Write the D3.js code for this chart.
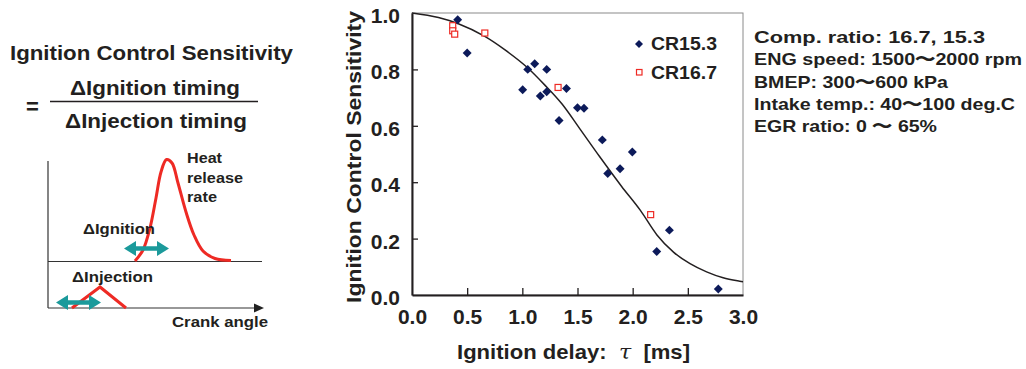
<!DOCTYPE html>
<html>
<head>
<meta charset="utf-8">
<script src="https://cdn.jsdelivr.net/npm/d3@7"></script>
<style>
  body { margin: 0; background: #fff; }
  svg { display: block; font-family: "Liberation Sans", Arial, sans-serif; font-weight: bold; }
  .tickLab { font-size: 21px; fill: #231f20; }
</style>
</head>
<body>
<div id="graphicContainer"></div>
<script>
// scatter data
const cr153X = [0.414, 0.50, 1.049, 1.112, 1.221, 1.003, 1.163, 1.221, 1.40, 1.333, 1.50, 1.559, 1.725, 1.774, 1.886, 1.997, 2.218, 2.333, 2.776];
const cr153Y = [0.976, 0.858, 0.800, 0.820, 0.800, 0.728, 0.706, 0.721, 0.732, 0.619, 0.664, 0.662, 0.550, 0.431, 0.448, 0.507, 0.154, 0.230, 0.021];
const cr167X = [0.369, 0.369, 0.387, 0.66, 1.324, 2.163];
const cr167Y = [0.955, 0.937, 0.925, 0.929, 0.736, 0.285];
// fitted curve
const fitX = [0, 0.24, 0.42, 0.66, 0.84, 1.05, 1.2, 1.36, 1.52, 1.7, 1.9, 2.07, 2.22, 2.37, 2.52, 2.67, 2.82, 2.97, 3.0];
const fitY = [1.0, 0.984, 0.962, 0.917, 0.87, 0.805, 0.746, 0.677, 0.59, 0.491, 0.385, 0.30, 0.213, 0.152, 0.111, 0.082, 0.061, 0.049, 0.047];
const xTicks = [0, 0.5, 1, 1.5, 2, 2.5, 3];
const yTicks = [0, 0.2, 0.4, 0.6, 0.8, 1.0];
const seriesNames = ['CR15.3', 'CR16.7'];
const conditions = [
  ['Comp. ratio: 16.7, 15.3', 231],
  ['ENG speed: 1500\u301c2000 rpm', 268],
  ['BMEP: 300\u301c600 kPa', 194],
  ['Intake temp.: 40\u301c100 deg.C', 261],
  ['EGR ratio: 0 \u301c 65%', 183],
];

const Width = 1026, Height = 369;
const navy = '#0c1a5a', red = '#ee2a24', teal = '#1b9a9b', ink = '#231f20';
const P = { l: 412, r: 743, t: 13, b: 295 };

const svg = d3.select('#graphicContainer').append('svg')
  .attr('width', Width).attr('height', Height);

const x = d3.scaleLinear().domain([0, 3]).range([P.l, P.r]);
const y = d3.scaleLinear().domain([0, 1]).range([P.b, P.t]);

// frame
svg.append('rect')
  .attr('x', P.l).attr('y', P.t)
  .attr('width', P.r - P.l).attr('height', P.b - P.t)
  .attr('fill', 'none').attr('stroke', '#8a8a8a').attr('stroke-width', 1);

const xAxis = svg.append('g').attr('transform', `translate(0,${P.b})`)
  .call(d3.axisBottom(x).tickValues(xTicks).tickSize(-7).tickSizeOuter(0).tickFormat(d3.format('.1f')));
const yAxis = svg.append('g').attr('transform', `translate(${P.l},0)`)
  .call(d3.axisLeft(y).tickValues(yTicks).tickSize(-6).tickSizeOuter(0).tickFormat(d3.format('.1f')));

[xAxis, yAxis].forEach(g => {
  g.select('.domain').attr('stroke', ink).attr('stroke-width', 2);
  g.selectAll('.tick line').attr('stroke', ink).attr('stroke-width', 1.3);
  g.selectAll('.tick text').attr('class', 'tickLab').attr('font-family', null).attr('font-size', null);
});
xAxis.selectAll('.tick text').attr('y', 14).attr('dy', '0.71em');
yAxis.selectAll('.tick text').attr('x', -12).attr('dy', '0.45em');
// hide inner ticks at the ends
xAxis.selectAll('.tick').filter(d => d === 0 || d === 3).select('line').remove();
yAxis.selectAll('.tick').filter(d => d === 0 || d === 1).select('line').remove();

// fitted curve
const fit = fitX.map((v, i) => [v, fitY[i]]);
svg.append('path')
  .datum(fit)
  .attr('fill', 'none').attr('stroke', ink).attr('stroke-width', 1.5)
  .attr('d', d3.line().x(d => x(d[0])).y(d => y(d[1])).curve(d3.curveMonotoneX));

// CR16.7 open squares
svg.append('g').selectAll('rect')
  .data(cr167X.map((v, i) => [v, cr167Y[i]]))
  .join('rect')
  .attr('x', d => x(d[0]) - 3).attr('y', d => y(d[1]) - 3)
  .attr('width', 6).attr('height', 6)
  .attr('fill', '#fff').attr('stroke', red).attr('stroke-width', 1.2);

// CR15.3 diamonds
const diamond = d3.symbol().type(d3.symbolSquare).size(40);
svg.append('g').selectAll('path')
  .data(cr153X.map((v, i) => [v, cr153Y[i]]))
  .join('path')
  .attr('d', diamond)
  .attr('transform', d => `translate(${x(d[0])},${y(d[1])}) rotate(45)`)
  .attr('fill', navy);

// legend
const leg = svg.append('g');
leg.append('path').attr('d', d3.symbol().type(d3.symbolSquare).size(32))
  .attr('transform', 'translate(639,44) rotate(45)').attr('fill', navy);
leg.append('rect').attr('x', 636.5).attr('y', 69.5).attr('width', 5.5).attr('height', 5.5)
  .attr('fill', '#fff').attr('stroke', red).attr('stroke-width', 1.2);
leg.selectAll('text').data(seriesNames).join('text')
  .attr('x', 651).attr('y', (d, i) => 50 + i * 28.5)
  .attr('font-size', 18).attr('fill', ink)
  .attr('textLength', 66).attr('lengthAdjust', 'spacingAndGlyphs')
  .text(d => d);

// axis titles
svg.append('text')
  .attr('transform', `translate(361,157) rotate(-90)`)
  .attr('text-anchor', 'middle').attr('font-size', 21).attr('fill', ink)
  .attr('textLength', 292).attr('lengthAdjust', 'spacingAndGlyphs')
  .text('Ignition Control Sensitivity');

const xt = svg.append('text')
  .attr('x', 457).attr('y', 359)
  .attr('font-size', 21).attr('fill', ink)
  .attr('textLength', 233).attr('lengthAdjust', 'spacingAndGlyphs');
xt.append('tspan').text('Ignition delay:\u00a0 ');
xt.append('tspan').attr('font-family', '"DejaVu Serif", serif').attr('font-style', 'italic')
  .attr('font-weight', 'normal').text('\u03c4');
xt.append('tspan').text('\u00a0 [ms]');

// operating conditions
svg.append('g').selectAll('text').data(conditions).join('text')
  .attr('x', 754).attr('y', (d, i) => 43 + i * 22.3)
  .attr('font-size', 16.5).attr('fill', ink)
  .attr('textLength', d => d[1]).attr('lengthAdjust', 'spacingAndGlyphs')
  .text(d => d[0]);

// left: definition
const left = svg.append('g').attr('fill', ink);
left.append('text').attr('x', 10).attr('y', 60).attr('font-size', 20)
  .attr('textLength', 283).attr('lengthAdjust', 'spacingAndGlyphs')
  .text('Ignition Control Sensitivity');
left.append('text').attr('x', 70).attr('y', 95).attr('font-size', 20)
  .attr('textLength', 170).attr('lengthAdjust', 'spacingAndGlyphs')
  .text('\u0394Ignition timing');
left.append('text').attr('x', 65).attr('y', 128).attr('font-size', 20)
  .attr('textLength', 182).attr('lengthAdjust', 'spacingAndGlyphs')
  .text('\u0394Injection timing');
left.append('text').attr('x', 26).attr('y', 114).attr('font-size', 22).text('=');
left.append('line').attr('x1', 50).attr('x2', 258).attr('y1', 101.5).attr('y2', 101.5)
  .attr('stroke', ink).attr('stroke-width', 1.3);

// left: schematic
const sch = svg.append('g');
sch.append('line').attr('x1', 48).attr('x2', 48).attr('y1', 161).attr('y2', 308)
  .attr('stroke', '#333').attr('stroke-width', 1.2);
sch.append('line').attr('x1', 48).attr('x2', 262).attr('y1', 261.5).attr('y2', 261.5)
  .attr('stroke', '#333').attr('stroke-width', 1.2);
sch.append('line').attr('x1', 48).attr('x2', 256).attr('y1', 308).attr('y2', 308)
  .attr('stroke', '#333').attr('stroke-width', 1.2);
sch.append('path').attr('d', 'M264,308 L254,303.5 L254,312.5 Z').attr('fill', '#222');

const heat = [[135, 261], [143, 250], [150, 228], [156, 198], [161, 172], [166.5, 159.5], [172, 163], [178, 183], [186, 212], [194, 235], [203, 251], [215, 258.5], [231, 260.5]];
sch.append('path').datum(heat)
  .attr('d', d3.line().curve(d3.curveCatmullRom))
  .attr('fill', 'none').attr('stroke', red).attr('stroke-width', 3);
const inj = [[72, 308], [100, 287], [126, 308]];
sch.append('path').datum(inj)
  .attr('d', d3.line())
  .attr('fill', 'none').attr('stroke', red).attr('stroke-width', 3);

function dblArrow(x0, x1, cy) {
  const h = 7.5, w = 12, s = 2.2;
  return `M${x0},${cy} L${x0 + w},${cy - h} L${x0 + w},${cy - s} L${x1 - w},${cy - s} L${x1 - w},${cy - h} L${x1},${cy}` +
    ` L${x1 - w},${cy + h} L${x1 - w},${cy + s} L${x0 + w},${cy + s} L${x0 + w},${cy + h} Z`;
}
sch.append('path').attr('d', dblArrow(124, 169, 248.5)).attr('fill', teal);
sch.append('path').attr('d', dblArrow(56, 101, 302.5)).attr('fill', teal);

const labs = [
  ['Heat', 187, 163, 35], ['release', 187, 182.5, 56], ['rate', 187, 201.5, 30],
  ['\u0394Ignition', 83, 234, 72], ['\u0394Injection', 72, 281.5, 81], ['Crank angle', 172, 327, 96]
];
sch.selectAll('text').data(labs).join('text')
  .attr('x', d => d[1]).attr('y', d => d[2])
  .attr('font-size', 15).attr('fill', ink)
  .attr('textLength', d => d[3]).attr('lengthAdjust', 'spacingAndGlyphs')
  .text(d => d[0]);
</script>
</body>
</html>
